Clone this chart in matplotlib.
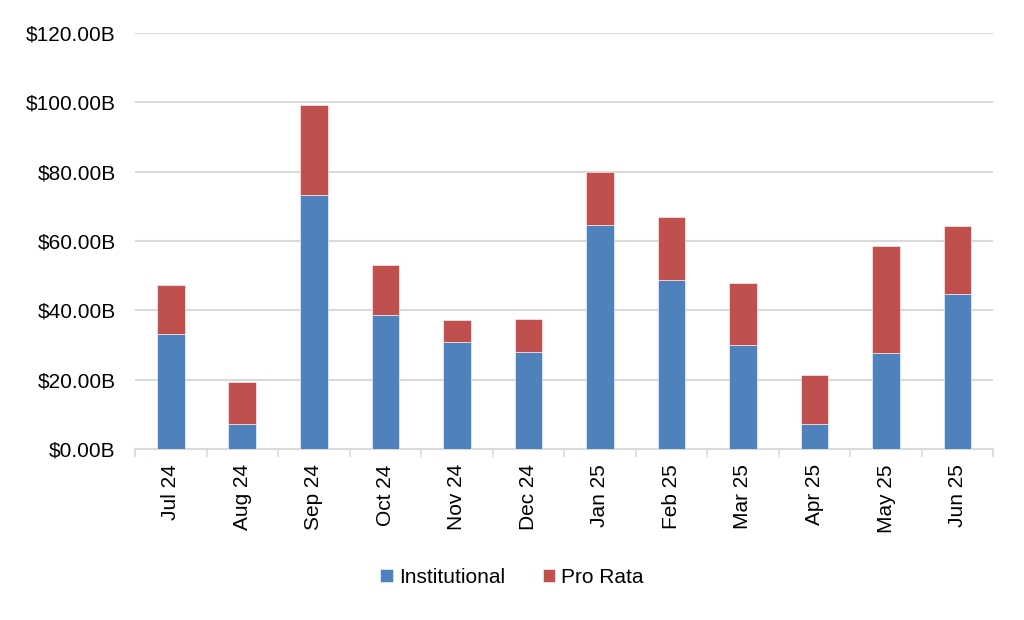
import matplotlib.pyplot as plt
import numpy as np
from matplotlib.ticker import FuncFormatter, FixedLocator

plt.rcParams['font.family'] = ['Liberation Sans', 'DejaVu Sans']

months = ['Jul 24', 'Aug 24', 'Sep 24', 'Oct 24', 'Nov 24', 'Dec 24',
          'Jan 25', 'Feb 25', 'Mar 25', 'Apr 25', 'May 25', 'Jun 25']
institutional = [33.2, 7.2, 73.1, 38.6, 30.8, 28.0, 64.5, 48.7, 30.1, 7.2, 27.7, 44.7]
pro_rata = [14.2, 12.2, 26.0, 14.4, 6.4, 9.6, 15.4, 18.1, 17.8, 14.2, 30.8, 19.7]

blue = '#4F81BD'
red = '#C0504D'
grid_color = '#D9D9D9'

fig = plt.figure(figsize=(10.24, 6.2), dpi=100)
ax = fig.add_axes([0.132, 0.276, 0.838, 0.671])

x = np.arange(len(months))
ax.bar(x, institutional, width=0.39, color=blue, edgecolor='white', linewidth=0.4,
       label='Institutional', zorder=3)
ax.bar(x, pro_rata, width=0.39, bottom=institutional, color=red, edgecolor='white',
       linewidth=0.4, label='Pro Rata', zorder=3)

ax.set_xlim(-0.5, len(months) - 0.5)
ax.set_ylim(0, 120)
ax.set_yticks(np.arange(0, 121, 20))
ax.yaxis.set_major_formatter(FuncFormatter(lambda v, p: f'${v:.2f}B'))
ax.grid(axis='y', color=grid_color, linewidth=1.5, zorder=0)
ax.set_axisbelow(True)

for s in ['top', 'right', 'left']:
    ax.spines[s].set_visible(False)
ax.spines['bottom'].set_color(grid_color)
ax.spines['bottom'].set_linewidth(1.5)

ax.set_xticks(x)
ax.set_xticklabels(months, rotation=90)
ax.xaxis.set_minor_locator(FixedLocator(np.arange(-0.5, len(months), 1)))
ax.tick_params(axis='x', which='major', length=0, pad=11, labelsize=15, colors='#000000')
ax.tick_params(axis='x', which='minor', length=6, width=1.2, color=grid_color)
ax.tick_params(axis='y', length=0, pad=14, labelsize=15)

handles, labels = ax.get_legend_handles_labels()
fig.legend(handles, labels, loc='center', bbox_to_anchor=(0.5, 0.069), ncol=2,
           frameon=False, fontsize=15, handlelength=0.6, handleheight=0.6,
           handletextpad=0.3, columnspacing=1.8)

fig.savefig('out.png', dpi=100)
